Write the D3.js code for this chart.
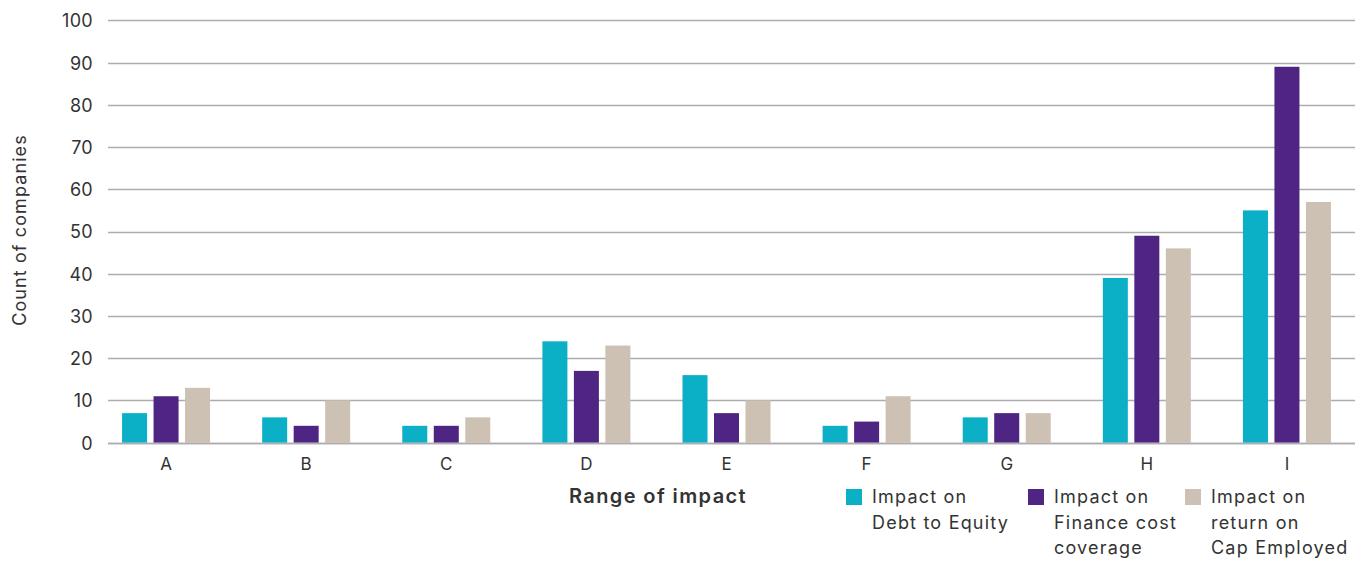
<!DOCTYPE html>
<html>
<head>
<meta charset="utf-8">
<script src="https://cdn.jsdelivr.net/npm/d3@7"></script>
<style>
  html, body { margin: 0; padding: 0; background: #fff; }
  svg { display: block; font-family: Inter, "Noto Sans", sans-serif; }
</style>
</head>
<body>
<svg id="chart" width="1371" height="563"></svg>
<script>
// Range buckets along the x axis
const categories = ["A", "B", "C", "D", "E", "F", "G", "H", "I"];

// Count of companies per bucket, one array per measure
const debtToEquity       = [7, 6, 4, 24, 16, 4, 6, 39, 55];
const financeCostCover   = [11, 4, 4, 17, 7, 5, 7, 49, 89];
const returnOnCapEmpl    = [13, 10, 6, 23, 10, 11, 7, 46, 57];

const seriesNames = [
  ["Impact on", "Debt to Equity"],
  ["Impact on", "Finance cost", "coverage"],
  ["Impact on", "return on", "Cap Employed"]
];
const seriesValues = [debtToEquity, financeCostCover, returnOnCapEmpl];
const colors = ["#0bb0c6", "#4f2583", "#cdc1b3"];
const yTicks = [0, 10, 20, 30, 40, 50, 60, 70, 80, 90, 100];

const svg = d3.select("#chart");

const y = d3.scaleLinear().domain([0, 100]).range([442.7, 20.3]);
const x0 = d3.scaleBand().domain(categories).range([96, 1357]).padding(0);
const x1 = d3.scaleBand().domain(d3.range(3))
  .range([(x0.bandwidth() - 88) / 2, (x0.bandwidth() + 88) / 2])
  .paddingInner(0.206).paddingOuter(0);

// Horizontal gridlines
const gridLeft = 108, gridRight = 1355;
svg.append("g").selectAll("line")
  .data(yTicks)
  .join("line")
  .attr("x1", gridLeft).attr("x2", gridRight)
  .attr("y1", d => Math.round(y(d)) + 0.5).attr("y2", d => Math.round(y(d)) + 0.5)
  .attr("stroke", "#adadb0")
  .attr("stroke-width", 1.4);

// Y axis tick labels
const yAxis = d3.axisLeft(y).tickValues(yTicks).tickSize(0).tickPadding(0);
const gy = svg.append("g").attr("transform", "translate(93,0)").call(yAxis);
gy.select(".domain").remove();
gy.selectAll("text")
  .attr("font-family", "Inter, sans-serif")
  .attr("font-size", 18)
  .attr("letter-spacing", 0.3)
  .attr("fill", "#333")
  .attr("dy", "0.36em");

// Bars
const groups = svg.append("g").selectAll("g")
  .data(categories)
  .join("g")
  .attr("transform", d => `translate(${x0(d)},0)`);

groups.selectAll("rect")
  .data((d, i) => seriesValues.map((vals, s) => ({ s, v: vals[i] })))
  .join("rect")
  .attr("x", d => x1(d.s))
  .attr("width", x1.bandwidth())
  .attr("y", d => y(d.v))
  .attr("height", d => y(0) - y(d.v))
  .attr("fill", d => colors[d.s]);

// Baseline drawn over bars
svg.append("line")
  .attr("x1", gridLeft).attr("x2", gridRight)
  .attr("y1", Math.round(y(0)) + 0.5).attr("y2", Math.round(y(0)) + 0.5)
  .attr("stroke", "#adadb0").attr("stroke-width", 1.6);

// X axis category labels
const xAxis = d3.axisBottom(x0).tickSize(0).tickPadding(0);
const gx = svg.append("g").attr("transform", "translate(0,458)").call(xAxis);
gx.select(".domain").remove();
gx.selectAll("text")
  .attr("font-family", "Inter, sans-serif")
  .attr("font-size", 17)
  .attr("fill", "#333")
  .attr("dy", "0.71em");

// Axis titles
svg.append("text")
  .attr("transform", "translate(26,230) rotate(-90)")
  .attr("text-anchor", "middle")
  .attr("font-size", 18)
  .attr("letter-spacing", 1.1)
  .attr("fill", "#333")
  .text("Count of companies");

svg.append("text")
  .attr("x", 658).attr("y", 503)
  .attr("text-anchor", "middle")
  .attr("font-size", 20)
  .attr("font-weight", 600)
  .attr("letter-spacing", 1.4)
  .attr("fill", "#333")
  .text("Range of impact");

// Legend
const legendX = [846, 1028, 1185];
const legend = svg.append("g").selectAll("g")
  .data(seriesNames)
  .join("g")
  .attr("transform", (d, i) => `translate(${legendX[i]},489)`);

legend.append("rect")
  .attr("width", 16).attr("height", 16)
  .attr("fill", (d, i) => colors[i]);

legend.append("text")
  .attr("x", 26).attr("y", 14)
  .attr("font-size", 18)
  .attr("letter-spacing", 1.2)
  .attr("fill", "#333")
  .selectAll("tspan")
  .data(d => d)
  .join("tspan")
  .attr("x", 26)
  .attr("dy", (d, i) => i === 0 ? 0 : 25.5)
  .text(d => d);
</script>
</body>
</html>
